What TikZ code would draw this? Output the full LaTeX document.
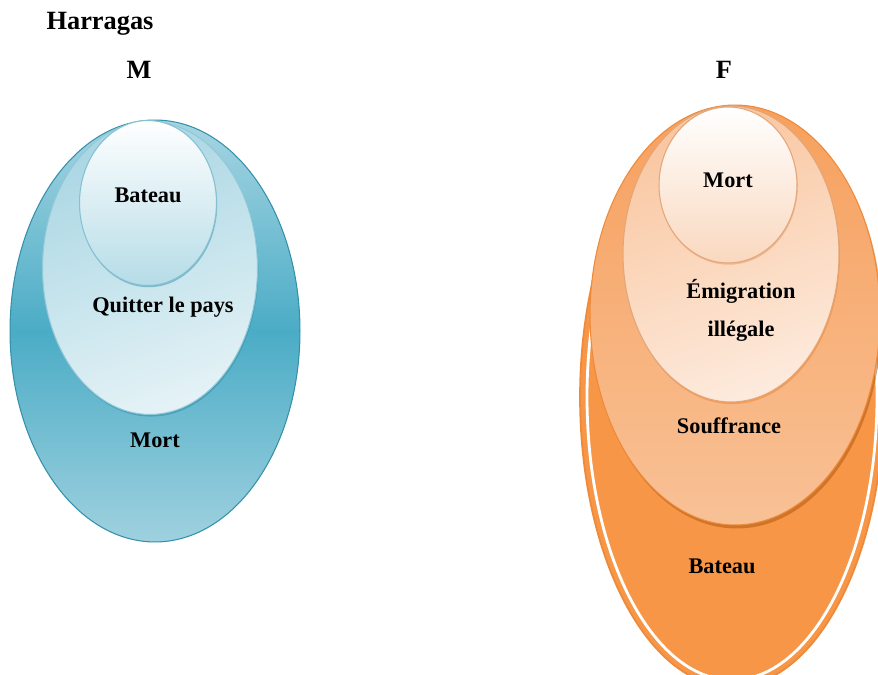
\documentclass[tikz,border=0pt]{standalone}
\usepackage{fontspec}
\setmainfont{Liberation Serif}
\usetikzlibrary{shapes.geometric,shadows}
\definecolor{bleuhaut}{HTML}{A6D5E2}
\definecolor{bleumil}{HTML}{4BACC6}
\definecolor{bleubas}{HTML}{9FD1DF}
\definecolor{bleubord}{HTML}{3590AA}
\definecolor{bleuclair}{HTML}{E4F2F6}
\definecolor{bleumoyen}{HTML}{A9D6E3}
\definecolor{orange}{HTML}{F79646}
\definecolor{orangebord}{HTML}{EE8A3A}
\definecolor{orangehaut}{HTML}{F7A05D}
\definecolor{orangebas}{HTML}{F8C196}
\definecolor{orangeombre}{HTML}{A9550F}
\definecolor{peche}{HTML}{F9C6A0}
\definecolor{pecheclair}{HTML}{FDEADC}
\definecolor{pechebas}{HTML}{FAD8BF}
\definecolor{pechebord}{HTML}{E3A679}

\begin{document}
\begin{tikzpicture}[x=0.02cm,y=-0.02cm]
\tikzset{bulle/.style={ellipse, inner sep=0pt, line width=0.6pt},
  titre/.style={font=\fontsize{15}{18}\selectfont\bfseries},
  etiq/.style={font=\fontsize{12.7}{21.6}\selectfont\bfseries, align=center}}
\useasboundingbox (0,0) rectangle (878,675);
\clip (0,0) rectangle (878,675);
% titres
\node[titre] (harragas) at (100,24) {Harragas};
\node[titre] (M) at (139,70) {M};
\node[titre] (F) at (724,70) {F};
% groupe M
\node[bulle, draw=bleubord, top color=bleuhaut, bottom color=bleubas, middle color=bleumil,
  minimum width=5.8cm, minimum height=8.44cm] (M1) at (155,331) {};
\node[bulle, draw=bleumoyen!80!bleubord, left color=bleumoyen, right color=bleuclair, shading angle=20,
  drop shadow={shadow xshift=0.5pt, shadow yshift=-1.2pt, fill=bleubord, opacity=0.6},
  minimum width=4.3cm, minimum height=5.86cm] (M2) at (150,268) {};
\node[bulle, draw=bleumoyen!70!bleubord, top color=white, bottom color=bleumoyen!85,
  drop shadow={shadow xshift=0.4pt, shadow yshift=-1pt, fill=bleubord, opacity=0.5},
  minimum width=2.74cm, minimum height=3.3cm] (M3) at (148,203) {};
\node[etiq] (mbateau) at (148,195) {Bateau};
\node[etiq] (mquitter) at (163,307) {Quitter le pays};
\node[etiq] (mmort) at (155,440) {Mort};
% groupe F
\node[bulle, draw=orangebord, fill=orange, line width=1pt,
  minimum width=6.08cm, minimum height=11.6cm] (F1) at (732,397) {};
\draw[white, line width=1.6pt] (F1.center) ellipse [x radius=145, y radius=283];
\node[bulle, draw=orangebord, top color=orangehaut, bottom color=orangebas,
  drop shadow={shadow xshift=1pt, shadow yshift=-2pt, fill=orangeombre},
  minimum width=5.8cm, minimum height=8.4cm] (F2) at (735,315) {};
\node[bulle, draw=pechebord, left color=peche, right color=pecheclair, shading angle=20,
  drop shadow={shadow xshift=0.5pt, shadow yshift=-1.2pt, fill=orangebord, opacity=0.6},
  minimum width=4.32cm, minimum height=5.92cm] (F3) at (731,254) {};
\node[bulle, draw=pechebord, top color=white, bottom color=pechebas,
  drop shadow={shadow xshift=0.4pt, shadow yshift=-1pt, fill=pechebord, opacity=0.6},
  minimum width=2.76cm, minimum height=3.12cm] (F4) at (728,185) {};
\node[etiq] (fmort) at (728,180) {Mort};
\node[etiq] (femig) at (741,310) {Émigration\\illégale};
\node[etiq] (fsouff) at (729,426) {Souffrance};
\node[etiq] (fbateau) at (722,566) {Bateau};
\end{tikzpicture}
\end{document}
